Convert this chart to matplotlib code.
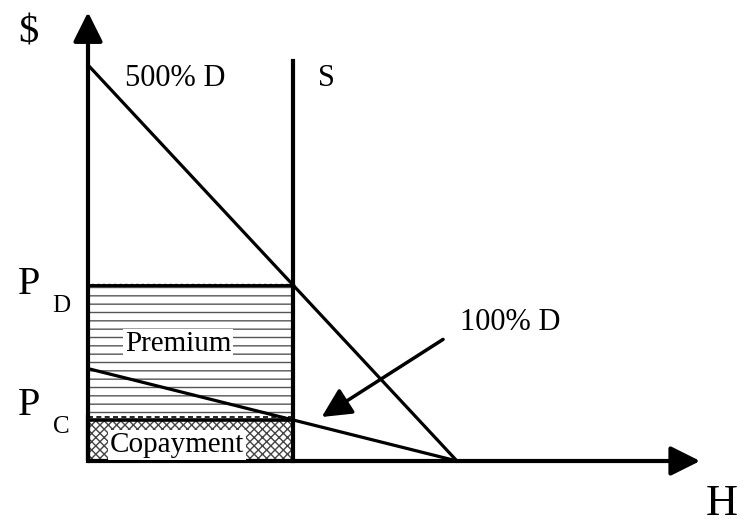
import matplotlib
matplotlib.use("Agg")
import matplotlib.pyplot as plt
from matplotlib.patches import Rectangle

# model values (H quantity, $ price)
q_supply = 5.0        # fixed supply S
q_max = 9.0           # both demand curves hit the H axis here
p_top_500 = 9.0       # price intercept of 500% D
p_top_100 = 2.1       # price intercept of 100% D
s_top = 9.1           # top of the supply line
y_axis_top = 10.2
x_axis_end = 14.93

p_d = p_top_500 * (1 - q_supply / q_max)
p_c = p_top_100 * (1 - q_supply / q_max)

demand_500_q = [0, q_max]
demand_500_p = [p_top_500, 0]
demand_100_q = [0, q_max]
demand_100_p = [p_top_100, 0]

plt.rcParams['font.family'] = ['Liberation Serif', 'DejaVu Serif']
plt.rcParams['hatch.linewidth'] = 1.0

fig = plt.figure(figsize=(7.46, 5.23), dpi=100)
ax = fig.add_axes([0, 0, 1, 1])
ax.set_xlim(-88 / 41, (746 - 88) / 41)
ax.set_ylim(-62 / 44, 461 / 44)
ax.axis('off')

# shaded areas
ax.add_patch(Rectangle((0, p_c), q_supply, p_d - p_c, facecolor='white',
                       edgecolor='#555555', hatch='--', lw=0, zorder=1))
ax.add_patch(Rectangle((0, 0), q_supply, p_c, facecolor='white',
                       edgecolor='#444444', hatch='xxxx', lw=0, zorder=1))
ax.plot([0, q_supply], [p_d, p_d], color='black', lw=2.4, zorder=3)
ax.plot([0, q_supply], [p_d + 0.04, p_d + 0.04], color='white', lw=0.8,
        ls=(0, (3, 2)), zorder=3)
ax.plot([0, q_supply], [p_c, p_c], color='black', lw=2.6, zorder=3)
ax.plot([0, q_supply], [p_c + 0.06, p_c + 0.06], color='black', lw=1.2,
        ls=(0, (3, 2)), zorder=3)

# curves
ax.plot(demand_500_q, demand_500_p, color='black', lw=2.3, zorder=4)
ax.plot(demand_100_q, demand_100_p, color='black', lw=2.3, zorder=4)
ax.plot([q_supply, q_supply], [0, s_top], color='black', lw=3, zorder=4)

# axes with arrows
arrow = dict(arrowstyle='-|>,head_length=0.9,head_width=0.45', color='black',
             lw=3, mutation_scale=20, shrinkA=0, shrinkB=0)
ax.annotate('', xy=(0, y_axis_top), xytext=(0, 0), arrowprops=arrow, zorder=5)
ax.annotate('', xy=(x_axis_end, 0), xytext=(0, 0), arrowprops=arrow, zorder=5)
ax.plot([0, 0], [0, 1], color='black', lw=3, zorder=5)

# pointer for 100% D
ax.annotate('100% D', xy=(5.7, 1.0), xytext=(9.07, 3.14), fontsize=22,
            va='center', ha='left',
            arrowprops=dict(arrowstyle='-|>,head_length=0.9,head_width=0.45',
                            color='black', lw=2.5, mutation_scale=20,
                            shrinkA=12, shrinkB=0, relpos=(0, 0.3)))

# labels
ax.text(-1.46, 9.72, '$', fontsize=29, ha='center', va='center')
ax.text(0.9, 8.70, '500% D', fontsize=22, ha='left', va='center')
ax.text(5.6, 8.70, 'S', fontsize=22, ha='left', va='center')
ax.text(15.45, -0.98, 'H', fontsize=32, ha='center', va='center')
ax.text(-1.44, 4.0, 'P', fontsize=29, ha='center', va='center')
ax.text(-0.66, 3.52, 'D', fontsize=18, ha='center', va='center')
ax.text(-1.44, 1.27, 'P', fontsize=29, ha='center', va='center')
ax.text(-0.66, 0.77, 'C', fontsize=18, ha='center', va='center')
ax.text(2.2, 2.66, 'Premium', fontsize=21, ha='center', va='center',
        zorder=6, bbox=dict(facecolor='white', edgecolor='none', pad=1.5))
ax.text(2.17, 0.37, 'Copayment', fontsize=21, ha='center', va='center',
        zorder=6, bbox=dict(facecolor='white', edgecolor='none', pad=1.5))

fig.savefig('out.png', dpi=100)
